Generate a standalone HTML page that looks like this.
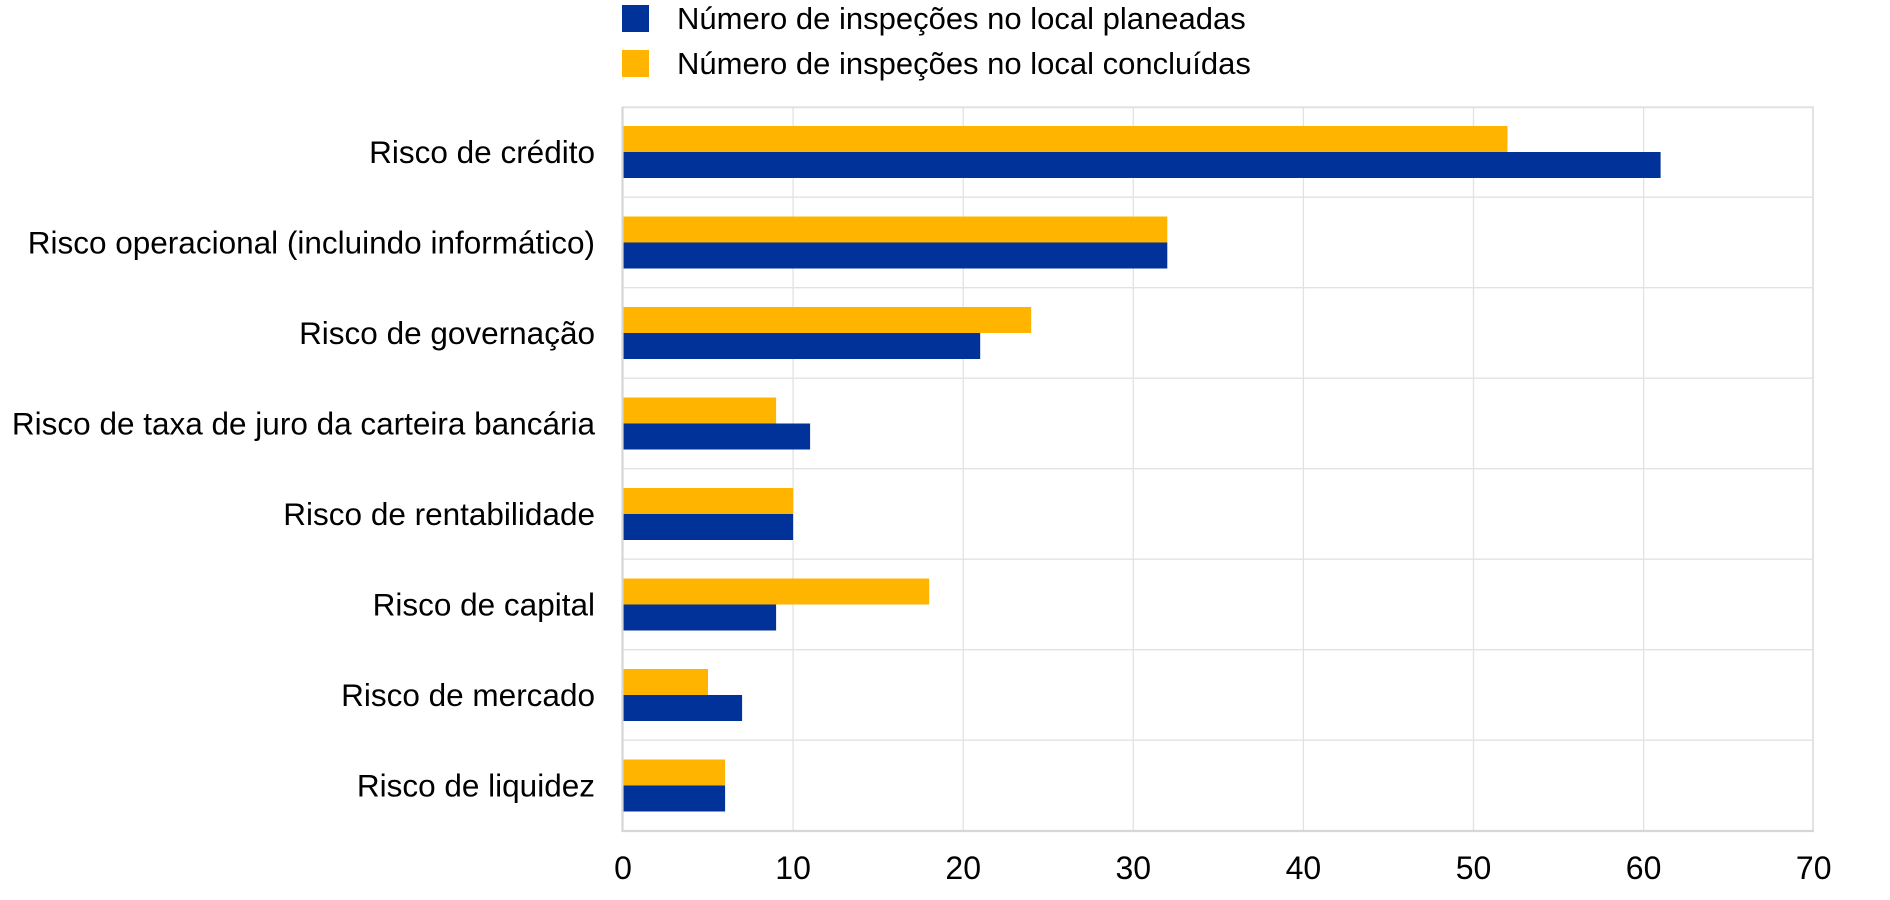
<!DOCTYPE html>
<html><head><meta charset="utf-8"><style>
html,body{margin:0;padding:0;background:#fff;}
svg{display:block;}
text{font-family:"Liberation Sans",Arial,sans-serif;fill:#000;}
</style></head><body>
<svg width="1890" height="900" viewBox="0 0 1890 900" xmlns="http://www.w3.org/2000/svg">
<rect x="0" y="0" width="1890" height="900" fill="#fff"/>
<!-- legend -->
<rect x="622" y="5" width="27" height="27" fill="#003299"/>
<text x="677" y="29" font-size="31">Número de inspeções no local planeadas</text>
<rect x="622" y="50" width="27" height="27" fill="#FFB400"/>
<text x="677" y="74" font-size="31">Número de inspeções no local concluídas</text>
<!-- vertical gridlines -->
<g stroke="#e2e2e2" stroke-width="1.3">
<line x1="793.1" y1="106.7" x2="793.1" y2="830.7"/>
<line x1="963.2" y1="106.7" x2="963.2" y2="830.7"/>
<line x1="1133.3" y1="106.7" x2="1133.3" y2="830.7"/>
<line x1="1303.4" y1="106.7" x2="1303.4" y2="830.7"/>
<line x1="1473.5" y1="106.7" x2="1473.5" y2="830.7"/>
<line x1="1643.6" y1="106.7" x2="1643.6" y2="830.7"/>
<line x1="1813" y1="106.7" x2="1813" y2="830.7" stroke-width="2"/>
<!-- horizontal gridlines -->
<line x1="623" y1="107.2" x2="1814" y2="107.2" stroke-width="2"/>
<line x1="623" y1="197.2" x2="1814" y2="197.2"/>
<line x1="623" y1="287.7" x2="1814" y2="287.7"/>
<line x1="623" y1="378.2" x2="1814" y2="378.2"/>
<line x1="623" y1="468.7" x2="1814" y2="468.7"/>
<line x1="623" y1="559.2" x2="1814" y2="559.2"/>
<line x1="623" y1="649.7" x2="1814" y2="649.7"/>
<line x1="623" y1="740.2" x2="1814" y2="740.2"/>
</g>
<!-- bars: orange (concluídas) above, blue (planeadas) below -->
<g>
<rect x="623" y="126" width="884.5" height="26" fill="#FFB400"/>
<rect x="623" y="152" width="1037.6" height="26" fill="#003299"/>
<rect x="623" y="216.5" width="544.3" height="26" fill="#FFB400"/>
<rect x="623" y="242.5" width="544.3" height="26" fill="#003299"/>
<rect x="623" y="307" width="408.2" height="26" fill="#FFB400"/>
<rect x="623" y="333" width="357.2" height="26" fill="#003299"/>
<rect x="623" y="397.5" width="153.1" height="26" fill="#FFB400"/>
<rect x="623" y="423.5" width="187.1" height="26" fill="#003299"/>
<rect x="623" y="488" width="170.1" height="26" fill="#FFB400"/>
<rect x="623" y="514" width="170.1" height="26" fill="#003299"/>
<rect x="623" y="578.5" width="306.2" height="26" fill="#FFB400"/>
<rect x="623" y="604.5" width="153.1" height="26" fill="#003299"/>
<rect x="623" y="669" width="85" height="26" fill="#FFB400"/>
<rect x="623" y="695" width="119.1" height="26" fill="#003299"/>
<rect x="623" y="759.5" width="102.1" height="26" fill="#FFB400"/>
<rect x="623" y="785.5" width="102.1" height="26" fill="#003299"/>
</g>
<!-- axes -->
<line x1="622.5" y1="106.7" x2="622.5" y2="832" stroke="#d6d6d6" stroke-width="2.2"/>
<line x1="621.5" y1="831" x2="1814" y2="831" stroke="#d6d6d6" stroke-width="2.2"/>
<!-- category labels -->
<g font-size="31.5" text-anchor="end">
<text x="595" y="163">Risco de crédito</text>
<text x="595" y="253.5">Risco operacional (incluindo informático)</text>
<text x="595" y="344">Risco de governação</text>
<text x="595" y="434.5">Risco de taxa de juro da carteira bancária</text>
<text x="595" y="525">Risco de rentabilidade</text>
<text x="595" y="615.5">Risco de capital</text>
<text x="595" y="706">Risco de mercado</text>
<text x="595" y="796.5">Risco de liquidez</text>
</g>
<!-- x tick labels -->
<g font-size="32" text-anchor="middle">
<text x="623" y="879">0</text>
<text x="793.1" y="879">10</text>
<text x="963.2" y="879">20</text>
<text x="1133.3" y="879">30</text>
<text x="1303.4" y="879">40</text>
<text x="1473.5" y="879">50</text>
<text x="1643.6" y="879">60</text>
<text x="1813.7" y="879">70</text>
</g>
</svg>
</body></html>
